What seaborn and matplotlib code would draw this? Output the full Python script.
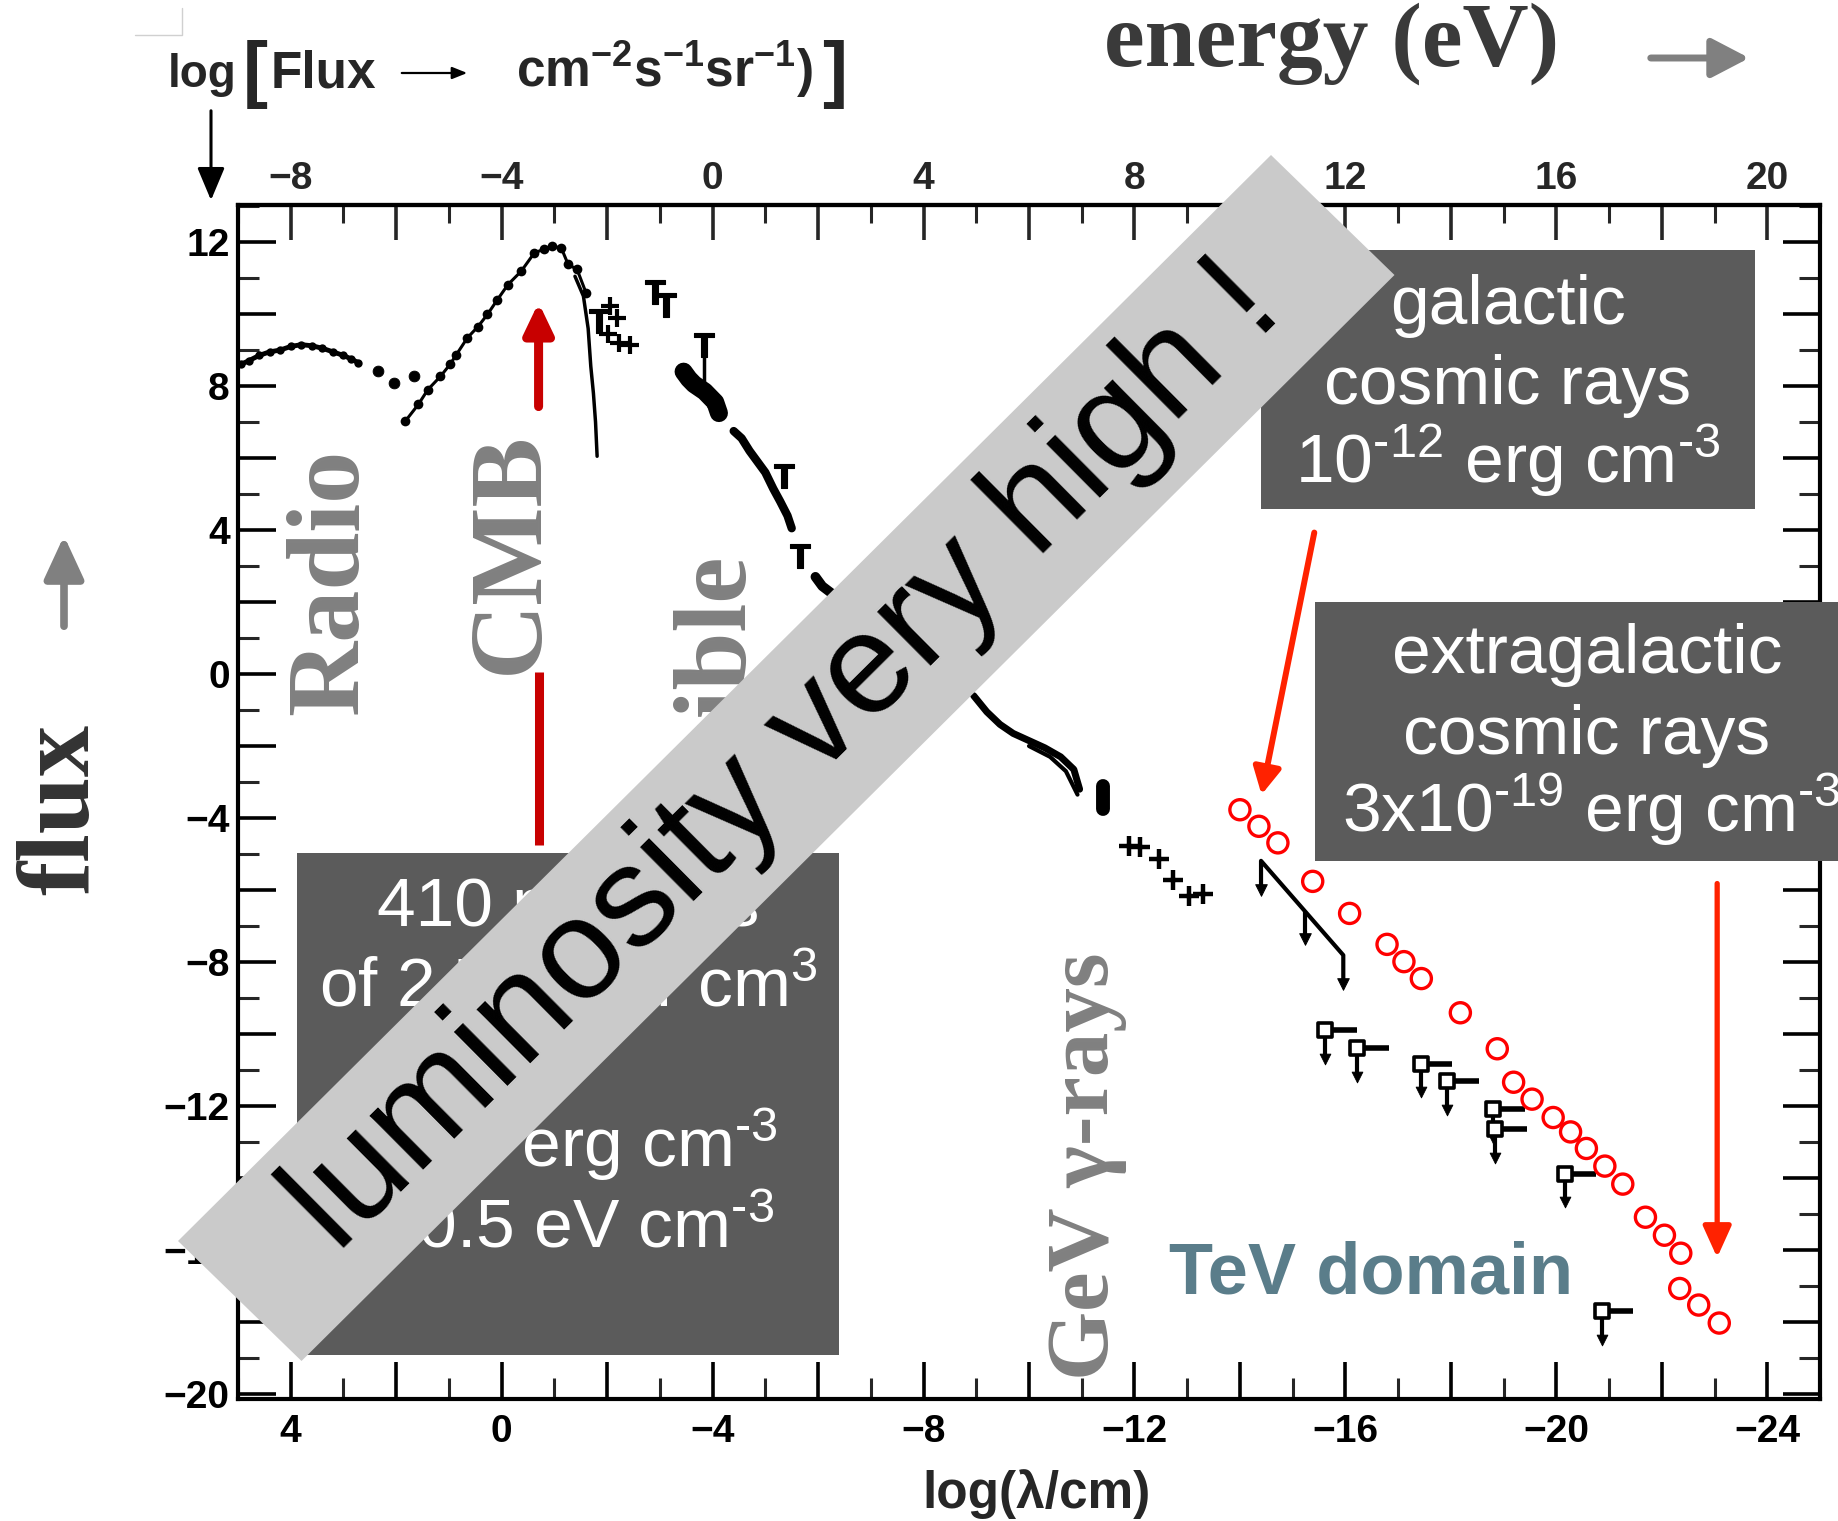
import matplotlib
matplotlib.use("Agg")
import matplotlib.pyplot as plt
from matplotlib import font_manager as fm
from matplotlib.patches import Rectangle, Polygon, FancyArrowPatch
from matplotlib.lines import Line2D
from matplotlib.ticker import MultipleLocator, FuncFormatter
import seaborn as sns

# ---------------- data: log(flux) against log(lambda / cm) ----------------
radio_lam = [4.95, 4.8, 4.6, 4.4, 4.2, 4.0, 3.8, 3.6, 3.4, 3.2, 3.0, 2.85, 2.72]
radio_flux = [8.6, 8.7, 8.85, 8.95, 9.0, 9.1, 9.15, 9.12, 9.05, 8.95, 8.85, 8.75, 8.65]
radio_dot_lam = [2.34, 2.04, 1.66]
radio_dot_flux = [8.41, 8.09, 8.27]

cmb_lam = [1.83, 1.58, 1.40, 1.16, 0.98, 0.86, 0.65, 0.45, 0.27, 0.08, -0.12,
           -0.37, -0.62, -0.80, -0.96, -1.13, -1.26, -1.43, -1.60]
cmb_flux = [7.02, 7.49, 7.90, 8.27, 8.60, 8.87, 9.34, 9.65, 9.99, 10.40, 10.82,
            11.19, 11.70, 11.80, 11.88, 11.84, 11.38, 11.24, 10.59]
wien_lam = [-1.39, -1.55, -1.64, -1.69, -1.74, -1.78, -1.81]
wien_flux = [11.05, 10.5, 9.6, 8.55, 7.8, 7.0, 6.05]

fir_lam = [-2.05, -2.18, -2.02, -2.23, -2.44]
fir_flux = [10.22, 9.89, 9.45, 9.20, 9.15]

ul_lam = [-1.85, -2.91, -3.12, -3.84, -5.36, -5.66]
ul_flux = [9.80, 10.60, 10.26, 9.15, 5.49, 3.27]

opt_lam = [-3.45, -3.55, -3.65, -3.75, -3.85, -3.95, -4.05, -4.12]
opt_flux = [8.40, 8.20, 8.05, 7.95, 7.85, 7.70, 7.55, 7.25]

uv_lam = [-4.40, -4.55, -4.70, -4.85, -5.00, -5.15, -5.28, -5.42, -5.50]
uv_flux = [6.75, 6.55, 6.20, 5.90, 5.60, 5.15, 4.80, 4.40, 4.05]

euv_lam = [-5.95, -6.08, -6.26]
euv_flux = [2.70, 2.44, 2.24]

xray_lam = [-8.95, -9.20, -9.45, -9.70, -10.00, -10.30, -10.60, -10.85, -10.96]
xray_flux = [-0.60, -1.05, -1.40, -1.65, -1.85, -2.05, -2.30, -2.65, -3.20]
xray2_lam = [-10.00, -10.40, -10.70, -10.92]
xray2_flux = [-2.00, -2.30, -2.70, -3.35]
hx_lam = [-11.40, -11.40]
hx_flux = [-3.12, -3.76]

gamma_lam = [-11.90, -12.10, -12.47, -12.73, -13.04, -13.30]
gamma_flux = [-4.78, -4.80, -5.15, -5.71, -6.17, -6.12]

tev_lam = [-14.40, -14.40, -15.96, -15.96]
tev_flux = [-5.95, -5.19, -7.81, -8.55]
tev_arrow_lam = [-14.40, -15.24, -15.96]
tev_arrow_flux = [-6.00, -7.35, -8.60]

box_lam = [-15.62, -16.22, -17.43, -17.93, -18.80, -18.84, -20.16, -20.86]
box_flux = [-9.90, -10.40, -10.82, -11.30, -12.08, -12.64, -13.88, -17.70]

cr_lam = [-14.00, -14.36, -14.72, -15.38, -16.08, -16.79, -17.11, -17.44, -18.18,
          -18.88, -19.19, -19.54, -19.94, -20.27, -20.57, -20.92, -21.26, -21.69,
          -22.05, -22.36, -22.34, -22.70, -23.09]
cr_flux = [-3.77, -4.23, -4.69, -5.76, -6.65, -7.51, -7.99, -8.46, -9.41,
           -10.41, -11.34, -11.81, -12.32, -12.72, -13.18, -13.67, -14.17, -15.09,
           -15.59, -16.09, -17.07, -17.53, -18.03]

x_ticks_major = 2
tick_label_step = 4
energy_offset = 4.0   # log(E/eV) = -log(lambda/cm) - 4

W, H = 1838, 1521


def pick(*names):
    for n in names:
        try:
            fm.findfont(fm.FontProperties(family=n), fallback_to_default=False)
            return n
        except Exception:
            continue
    return "DejaVu Sans"


NARROW = pick("Liberation Sans Narrow", "Liberation Sans")
SANS = pick("Liberation Sans", "Arimo")
SERIF = pick("Liberation Serif", "DejaVu Serif")

sns.set_theme(style="white")
plt.rcParams.update({
    "font.family": [NARROW, "DejaVu Sans"],
    "font.weight": "normal",
    "mathtext.fontset": "custom",
    "mathtext.rm": SANS + ":weight=normal",
    "mathtext.it": SANS + ":italic:weight=normal",
    "mathtext.bf": NARROW + ":bold",
    "axes.unicode_minus": True,
})


def fx(x):
    return x / W


def fy(y):
    return 1 - y / H


fig = plt.figure(figsize=(W / 100, H / 100), dpi=100)
fig.patch.set_facecolor("white")
ax = fig.add_axes([fx(238), fy(1399), (1820 - 238) / W, (1399 - 205) / H])
ax.set_facecolor("white")

# ---------------- spectrum ----------------
K = "black"
sns.lineplot(x=radio_lam, y=radio_flux, sort=False, estimator=None, color=K, lw=3.5,
             marker="o", markersize=6, markeredgewidth=0, ax=ax)
sns.scatterplot(x=radio_dot_lam, y=radio_dot_flux, color=K, s=60, edgecolor=None, ax=ax)
sns.lineplot(x=cmb_lam, y=cmb_flux, sort=False, estimator=None, color=K, lw=2.2,
             marker="o", markersize=7, markeredgewidth=0, ax=ax)
sns.lineplot(x=wien_lam, y=wien_flux, sort=False, estimator=None, color=K, lw=2.5, ax=ax)
sns.scatterplot(x=fir_lam, y=fir_flux, marker="+", color=K, s=160, linewidth=3, ax=ax)
sns.scatterplot(x=ul_lam, y=ul_flux, marker="$\\mathbf{T}$", color=K, s=300,
                edgecolor=K, linewidth=0.8, ax=ax)
ax.vlines([ul_lam[3]], [opt_flux[4]], [ul_flux[3]], color=K, lw=2.5)
sns.lineplot(x=opt_lam, y=opt_flux, sort=False, estimator=None, color=K, lw=13, ax=ax)
sns.lineplot(x=uv_lam, y=uv_flux, sort=False, estimator=None, color=K, lw=6, ax=ax)
sns.lineplot(x=euv_lam, y=euv_flux, sort=False, estimator=None, color=K, lw=7, ax=ax)
sns.lineplot(x=xray_lam, y=xray_flux, sort=False, estimator=None, color=K, lw=5, ax=ax)
sns.lineplot(x=xray2_lam, y=xray2_flux, sort=False, estimator=None, color=K, lw=3, ax=ax)
sns.lineplot(x=hx_lam, y=hx_flux, sort=False, estimator=None, color=K, lw=10, ax=ax)
sns.scatterplot(x=gamma_lam, y=gamma_flux, marker="+", color=K, s=200, linewidth=3.2, ax=ax)

# TeV upper limits
sns.lineplot(x=tev_lam, y=tev_flux, sort=False, estimator=None, color=K, lw=3, ax=ax)
ax.vlines([tev_arrow_lam[1]], [-6.6], [tev_arrow_flux[1]], color=K, lw=3)
sns.scatterplot(x=tev_arrow_lam, y=tev_arrow_flux, marker="v", color=K, s=70,
                edgecolor=K, ax=ax)
ax.vlines(box_lam, [f - 0.2 for f in box_flux], [f - 0.75 for f in box_flux], color=K, lw=3)
sns.scatterplot(x=box_lam, y=[f - 0.8 for f in box_flux], marker="v", color=K, s=60,
                edgecolor=K, ax=ax)
ax.hlines(box_flux, [l - 0.15 for l in box_lam], [l - 0.6 for l in box_lam], color=K, lw=4)
sns.scatterplot(x=box_lam, y=box_flux, marker="s", color="white", edgecolor=K,
                linewidth=2.6, s=90, ax=ax, zorder=4)

# cosmic-ray equivalent points
sns.scatterplot(x=cr_lam, y=cr_flux, marker="o", facecolor="none", edgecolor="#ff0000",
                linewidth=2.4, s=210, ax=ax, zorder=5)

# red arrows
ax.annotate("", xy=(-0.70, 10.32), xytext=(-0.70, 7.43),
            arrowprops=dict(arrowstyle="-|>,head_length=0.9,head_width=0.43",
                            mutation_scale=20, lw=6.5, color="#c80000",
                            shrinkA=0, shrinkB=0))
ax.plot([-0.70, -0.70], [0.07, -4.76], color="#c80000", lw=6.5, solid_capstyle="butt")
ax.annotate("", xy=(-14.41, -3.35), xytext=(-15.41, 3.93),
            arrowprops=dict(arrowstyle="-|>,head_length=0.8,head_width=0.42",
                            mutation_scale=20, lw=4.3, color="#ff2200",
                            shrinkA=0, shrinkB=0))
ax.annotate("", xy=(-23.05, -16.21), xytext=(-23.05, -5.82),
            arrowprops=dict(arrowstyle="-|>,head_length=0.95,head_width=0.43",
                            mutation_scale=20, lw=3.8, color="#ff2200",
                            shrinkA=0, shrinkB=0))

# ---------------- axes ----------------
ax.set_xlim(5, -25)
ax.set_ylim(-20.14, 13.03)


def every4(v, pos):
    r = round(v)
    if abs(v - r) < 1e-6 and int(r) % tick_label_step == 0:
        return f"{int(r)}".replace("-", "\u2212")
    return ""


for axis in (ax.xaxis, ax.yaxis):
    axis.set_major_locator(MultipleLocator(x_ticks_major))
    axis.set_minor_locator(MultipleLocator(1))
    axis.set_major_formatter(FuncFormatter(every4))
ax.set_xlabel("")
ax.set_ylabel("")
for s in ax.spines.values():
    s.set_visible(True)
    s.set_linewidth(3)
    s.set_color("black")
ax.tick_params(which="major", direction="in", length=27, width=2.6, labelsize=28,
               pad=11, bottom=True, top=False, left=True, right=True,
               labelright=False, colors="black")
ax.tick_params(which="minor", direction="in", length=15, width=2.2,
               bottom=True, top=False, left=True, right=True)
ax.tick_params(axis="y", which="major", pad=6)

sec = ax.secondary_xaxis("top", functions=(lambda x: -x - energy_offset,
                                           lambda e: -e - energy_offset))
sec.xaxis.set_major_locator(MultipleLocator(x_ticks_major))
sec.xaxis.set_minor_locator(MultipleLocator(1))
sec.xaxis.set_major_formatter(FuncFormatter(every4))
sec.tick_params(which="major", direction="in", length=25, width=2.6, labelsize=28, pad=6)
sec.tick_params(which="minor", direction="in", length=13, width=2.2)
sec.spines["top"].set_linewidth(3)

# ---------------- figure-level annotations ----------------
B = dict(fontweight="bold")
fig.text(fx(1037), fy(1494), "log(\u03bb/cm)", ha="center", va="center", fontsize=37, **B)

# top-left flux unit label
fig.text(fx(168), fy(87), "log", ha="left", va="baseline", fontsize=33, **B)
fig.text(fx(243), fy(94), "[", ha="left", va="baseline", fontsize=54, **B)
fig.text(fx(271), fy(87), "Flux", ha="left", va="baseline", fontsize=37, **B)
fig.text(fx(516), fy(87), r"cm$^{\mathbf{-2}}$s$^{\mathbf{-1}}$sr$^{\mathbf{-1}}$)",
         ha="left", va="baseline", fontsize=37, **B)
fig.text(fx(822), fy(94), "]", ha="left", va="baseline", fontsize=54, **B)
fig.add_artist(FancyArrowPatch(
    (fx(399), fy(73)), (fx(470), fy(73)), transform=fig.transFigure,
    arrowstyle="-|>,head_length=0.45,head_width=0.18", mutation_scale=20,
    lw=1.6, color="black"))
fig.add_artist(FancyArrowPatch(
    (fx(211), fy(108)), (fx(211), fy(203)), transform=fig.transFigure,
    arrowstyle="-|>,head_length=1.0,head_width=0.42", mutation_scale=20,
    lw=2.2, color="black"))

# faint corner mark
fig.add_artist(Line2D([fx(135), fx(182), fx(182)], [fy(35), fy(35), fy(8)],
                      transform=fig.transFigure, color="#d0d0d0", lw=1))

fig.text(fx(1332), fy(66), "energy (eV)", ha="center", va="baseline", fontsize=66,
         fontweight="bold", family=SERIF, color="#3a3a3a")
fig.add_artist(FancyArrowPatch(
    (fx(1648), fy(58)), (fx(1752), fy(58)), transform=fig.transFigure,
    arrowstyle="-|>,head_length=1.15,head_width=0.6", mutation_scale=20,
    lw=5, color="#808080"))

fig.text(fx(88), fy(809), "flux", ha="center", va="baseline", rotation=90,
         rotation_mode="anchor", fontsize=74, fontweight="bold", family=SERIF,
         color="#333333")
fig.add_artist(FancyArrowPatch(
    (fx(64), fy(629)), (fx(64), fy(533)), transform=fig.transFigure,
    arrowstyle="-|>,head_length=1.3,head_width=0.6", mutation_scale=20,
    lw=5.5, color="#808080"))

# band names
GRAY = "#808080"
for label, bx, by, size in [("Radio", 357, 715, 75), ("CMB", 537, 674, 75),
                            ("Visible", 745, 857, 75), ("GeV \u03b3-rays", 1108, 1380, 64)]:
    fig.text(fx(bx), fy(by), label, ha="left", va="baseline", rotation=90,
             rotation_mode="anchor", fontsize=size, fontweight="bold",
             family=[SERIF, "DejaVu Serif"], color=GRAY)

fig.text(fx(1371), fy(1293), "TeV domain", ha="center", va="baseline", fontsize=52,
         fontweight="bold", family=SANS, color="#5a7d8a")

# dark info boxes
BOX = "#5b5b5b"
boxes = [(297, 853, 839, 1355), (1261, 250, 1755, 509), (1315, 602, 1845, 861)]
for x0, y0, x1, y1 in boxes:
    fig.add_artist(Rectangle((fx(x0), fy(y1)), (x1 - x0) / W, (y1 - y0) / H,
                             transform=fig.transFigure, facecolor=BOX, edgecolor="none",
                             zorder=2))


def sup(s):
    return "$^{\\text{" + s + "}}$"


# (anchor x, alignment, baseline y, text)
box_lines = [
    (568, "center", 926, "410 photons"),
    (568, "center", 1007, "of 2.7 K per cm" + sup("3")),
    (568, "center", 1087, "="),
    (778, "right", 1167, "4x10" + sup("-13") + " erg cm" + sup("-3")),
    (774, "right", 1248, "\u2248 0.5 eV cm" + sup("-3")),
    (1508, "center", 324, "galactic"),
    (1508, "center", 404, "cosmic rays"),
    (1508, "center", 483, "10" + sup("-12") + " erg cm" + sup("-3")),
    (1587, "center", 673, "extragalactic"),
    (1587, "center", 754, "cosmic rays"),
    (1342, "left", 832, "3x10" + sup("-19") + " erg cm" + sup("-3")),
]
for bx, align, by, t in box_lines:
    fig.text(fx(bx), fy(by), t, ha=align, va="baseline", fontsize=50,
             fontweight="normal", family=[SANS, "DejaVu Sans"], color="white",
             zorder=3)

# diagonal banner
corners = [(178, 1241), (301.5, 1361), (1394.5, 275), (1271, 155)]
fig.add_artist(Polygon([(fx(x), fy(y)) for x, y in corners], closed=True,
                       transform=fig.transFigure, facecolor="#cacaca",
                       edgecolor="none", zorder=5))
fig.text(fx(786), fy(758), "luminosity very high !", ha="center", va="center",
         rotation=44.8, rotation_mode="anchor", fontsize=103, fontweight="normal",
         family=[SANS, "DejaVu Sans"], color="black", zorder=6)

# bold scan-style tick labels
fig.canvas.draw()
for lbl in (ax.get_xticklabels() + ax.get_yticklabels() + sec.get_xticklabels()):
    lbl.set_fontweight("bold")

fig.savefig("out.png", dpi=100, facecolor="white")
